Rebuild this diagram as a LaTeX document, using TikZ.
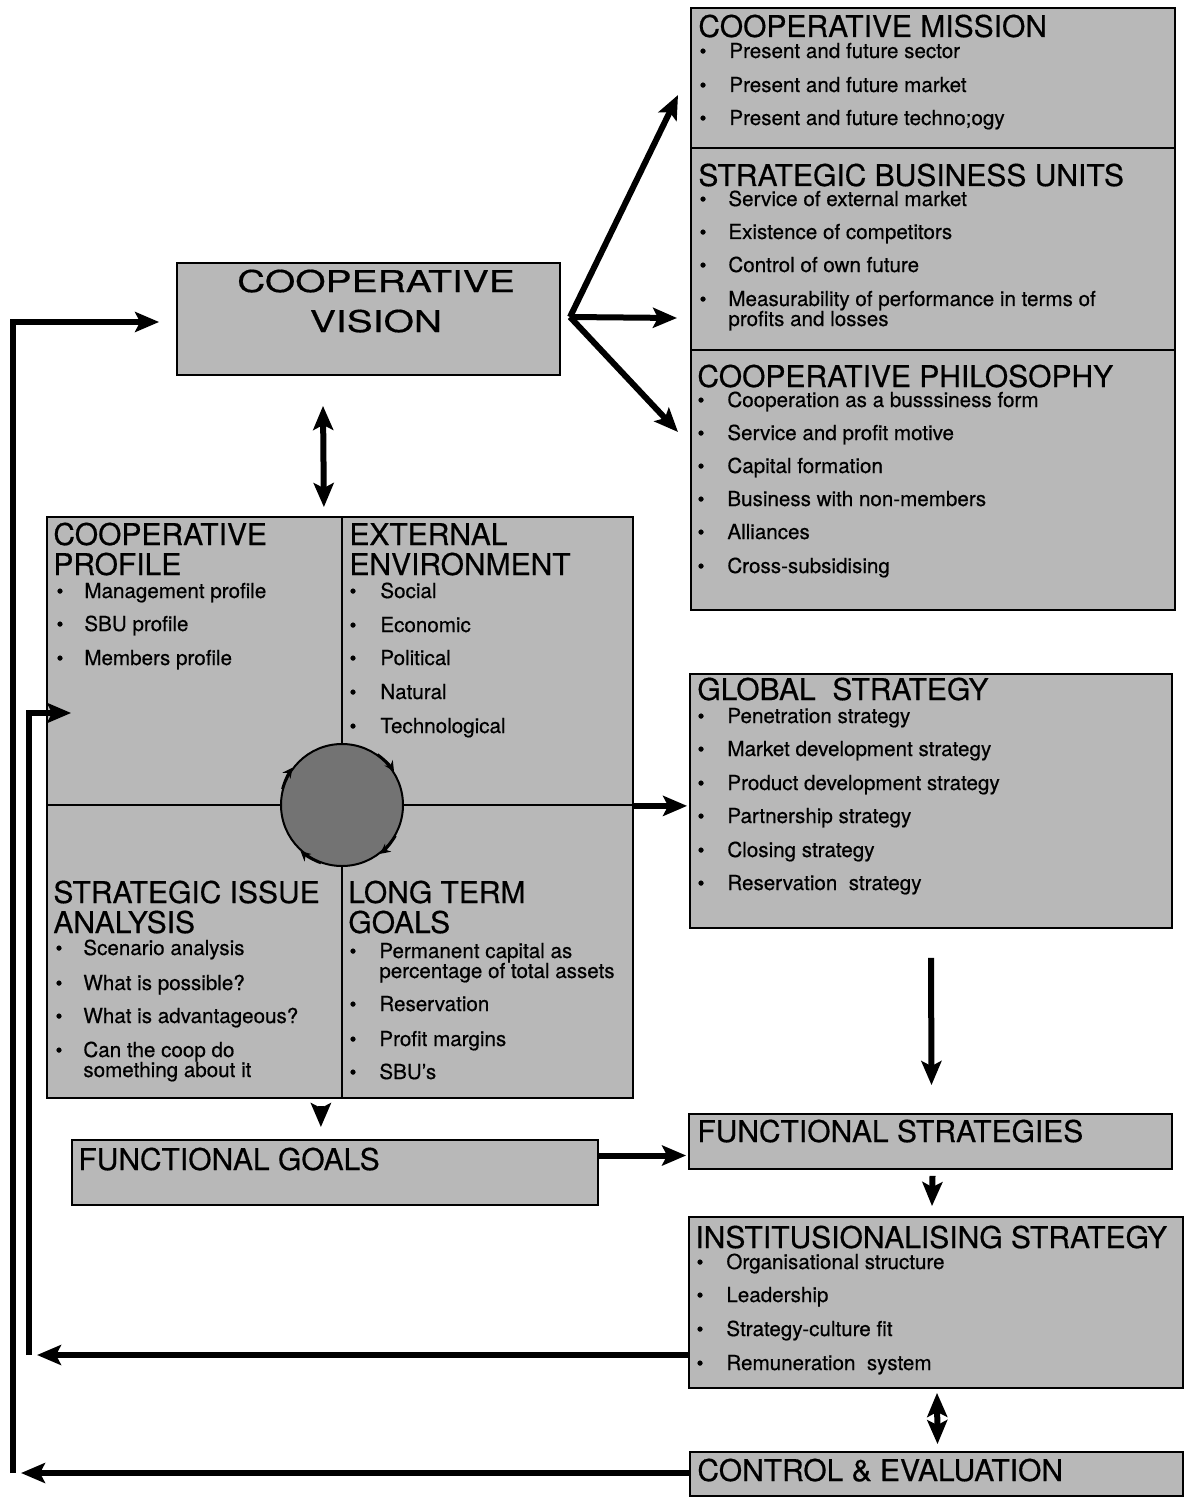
\documentclass[tikz,border=0pt]{standalone}
\usepackage{fontspec}
\setmainfont{TeX Gyre Heros}[FakeBold=0.5]
\newfontfamily\widefont{TeX Gyre Heros}[FakeStretch=1.3,FakeBold=0.6]
\usetikzlibrary{arrows.meta,positioning,fit,calc}
\tikzset{panel/.style={draw,line width=0.9pt,fill=black!28,inner sep=0pt},
 hub/.style={circle,draw,line width=1pt,fill=black!55,minimum size=61pt,inner sep=0pt},
 heading/.style={anchor=base west,inner sep=0pt,align=left,font=\fontsize{15}{15}\selectfont},
 entry/.style={anchor=base west,inner sep=0pt,align=left,font=\fontsize{10.3}{10}\selectfont},
 bullet/.style={anchor=base,inner sep=0pt,font=\fontsize{10}{10}\selectfont},
 arrow/.style={-{Stealth[length=12pt,width=10pt,inset=2.5pt]},line width=3pt},
 twoway/.style={{Stealth[length=12pt,width=10pt,inset=2.5pt]}-{Stealth[length=12pt,width=10pt,inset=2.5pt]},line width=3pt},
 spin/.style={-{Stealth[length=5pt,width=5pt]},line width=1pt}}
\begin{document}
\begin{tikzpicture}[x=0.5pt,y=-0.5pt]
\useasboundingbox (0,0) rectangle (1185,1498);

% right column
\node[panel,fit={(691,8) (1175,148)}] (mission) {};
\node[panel,fit={(691,148) (1175,350)}] (sbu) {};
\node[panel,fit={(691,350) (1175,610)}] (philo) {};
\node[panel,fit={(690,674) (1172,928)}] (global) {};
\node[panel,fit={(689,1114) (1172,1169)}] (fstrat) {};
\node[panel,fit={(689,1217) (1183,1388)}] (istrat) {};
\node[panel,fit={(690,1452) (1183,1496)}] (control) {};

% left column
\node[panel,fit={(177,263) (560,375)}] (vision) {};
\node[panel,fit={(47,517) (342,805)}] (profile) {};
\node[panel,fit={(342,517) (633,805)}] (environ) {};
\node[panel,fit={(47,805) (342,1098)}] (issues) {};
\node[panel,fit={(342,805) (633,1098)}] (goals) {};
\node[panel,fit={(72,1140) (598,1205)}] (fgoals) {};
\node[hub] (hub) at (342,805) {};
\foreach \a in {195,305,30,110}
  \draw[spin] ($(hub)+(\a:62)$) arc[start angle=\a,delta angle=22,radius=62];

% texts (base = last line)
\node[anchor=base,inner sep=0pt,align=center,font=\widefont\fontsize{15}{20}\selectfont] (visionT) at (376,332) {COOPERATIVE\\VISION};

\node[heading] (missionT) at (698,37) {COOPERATIVE MISSION};
\foreach \y/\t [count=\i] in {58/Present and future sector,92/Present and future market,125/Present and future techno;ogy}{
  \node[bullet] (missionB\i) at (703,\y) {\textbullet};
  \node[entry] (mission\i) at (729,\y) {\t};}

\node[heading] (sbuT) at (698,186) {STRATEGIC BUSINESS UNITS};
\foreach \y/\t [count=\i] in {206/Service of external market,239/Existence of competitors,272/Control of own future,306/}{
  \node[bullet] (sbuB\i) at (703,\y) {\textbullet};
  \node[entry] (sbu\i) at (728,\y) {\t};}
\node[entry] (sbu5) at (728,326) {Measurability of performance in terms of\\profits and losses};

\node[heading] (philoT) at (697,387) {COOPERATIVE PHILOSOPHY};
\foreach \y/\t [count=\i] in {407/Cooperation as a busssiness form,440/Service and profit motive,473/Capital formation,506/Business with non-members,539/Alliances,573/Cross-subsidising}{
  \node[bullet] (philoB\i) at (701,\y) {\textbullet};
  \node[entry] (philo\i) at (727,\y) {\t};}

\node[heading] (profileT) at (53,575) {COOPERATIVE\\PROFILE};
\foreach \y/\t [count=\i] in {598/Management profile,631/SBU profile,665/Members profile}{
  \node[bullet] (profileB\i) at (60,\y) {\textbullet};
  \node[entry] (profile\i) at (84,\y) {\t};}

\node[heading] (environT) at (349,575) {EXTERNAL\\ENVIRONMENT};
\foreach \y/\t [count=\i] in {598/Social,632/Economic,665/Political,699/Natural,733/Technological}{
  \node[bullet] (environB\i) at (353,\y) {\textbullet};
  \node[entry] (environ\i) at (380,\y) {\t};}

\node[heading] (issuesT) at (53,933) {STRATEGIC ISSUE\\ANALYSIS};
\foreach \y/\t [count=\i] in {955/Scenario analysis,990/What is possible?,1023/What is advantageous?,1057/}{
  \node[bullet] (issuesB\i) at (59,\y) {\textbullet};
  \node[entry] (issues\i) at (83,\y) {\t};}
\node[entry] (issues5) at (83,1077) {Can the coop do\\something about it};

\node[heading] (goalsT) at (348,933) {LONG TERM\\GOALS};
\foreach \y/\t [count=\i] in {958/,1011/Reservation,1046/Profit margins,1079/SBU's}{
  \node[bullet] (goalsB\i) at (353,\y) {\textbullet};
  \node[entry] (goals\i) at (379,\y) {\t};}
\node[entry] (goals5) at (379,978) {Permanent capital as\\percentage of total assets};

\node[heading] (globalT) at (697,700) {GLOBAL~ STRATEGY};
\foreach \y/\t [count=\i] in {723/Penetration strategy,756/Market development strategy,790/Product development strategy,823/Partnership strategy,857/Closing strategy,890/Reservation~ strategy}{
  \node[bullet] (globalB\i) at (701,\y) {\textbullet};
  \node[entry] (global\i) at (727,\y) {\t};}

\node[heading] (fstratT) at (697,1142) {FUNCTIONAL STRATEGIES};
\node[heading] (fgoalsT) at (78,1170) {FUNCTIONAL GOALS};

\node[heading] (istratT) at (695,1248) {INSTITUSIONALISING STRATEGY};
\foreach \y/\t [count=\i] in {1269/Organisational structure,1302/Leadership,1336/Strategy-culture fit,1370/Remuneration~ system}{
  \node[bullet] (istratB\i) at (700,\y) {\textbullet};
  \node[entry] (istrat\i) at (726,\y) {\t};}

\node[heading] (controlT) at (697,1481) {CONTROL \& EVALUATION};

% connectors
\coordinate (fork) at (570,317);
\coordinate (toMission) at (678,95);
\coordinate (toSbu) at (677,318);
\coordinate (toPhilo) at (678,432);
\draw[arrow] (fork) -- (toMission);
\draw[arrow] (fork) -- (toSbu);
\draw[arrow] (fork) -- (toPhilo);
\draw[twoway] ($(vision.south)+(-45.5,30)$) -- ($(profile.north east)+(-19,-9)$);
\draw[arrow] (environ.south east) -- ($(environ.south east -| global.west)+(-2,0)$);
\draw[arrow] ($(global.south)+(0,29)$) -- ($(fstrat.north)+(1,-28)$);
\draw[arrow] ($(fstrat.south)+(2,6)$) -- ($(istrat.north)+(-4,-10)$);
\draw[twoway] ($(istrat.south)+(1,4)$) -- ($(control.north)+(1,-7)$);
\draw[arrow] ($(issues.south east)+(-22,7)$) -- ($(issues.south east |- fgoals.north)+(-22,-12)$);
\draw[arrow] ($(fgoals.east)+(0,-17)$) -- ($(fgoals.east -| fstrat.west)+(-2,-17)$);

% feedback loops
\coordinate (innerB) at (29,1355);
\coordinate (innerT) at (29,713);
\coordinate (outerB) at (13,1473);
\coordinate (outerT) at (13,322);
\draw[arrow] (istrat.west |- innerB) -- ($(innerB)+(8,0)$);
\draw[arrow] (innerB) -- (innerT) -- ($(innerT -| profile.west)+(25,0)$);
\draw[arrow] (control.west |- outerB) -- ($(outerB)+(8,0)$);
\draw[arrow] (outerB) -- (outerT) -- ($(outerT -| vision.west)+(-17,0)$);
\end{tikzpicture}
\end{document}
